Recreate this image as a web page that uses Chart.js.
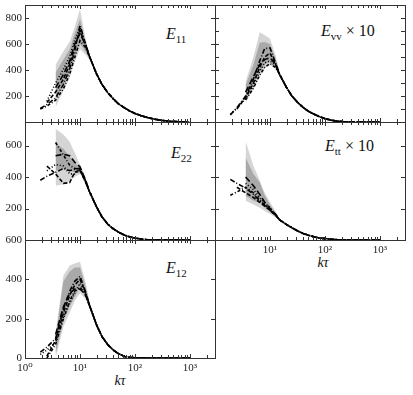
<!DOCTYPE html>
<html lang="en">
<head>
<meta charset="UTF-8">
<title>Spectra vs k tau</title>
<script src="https://cdn.jsdelivr.net/npm/chart.js"></script>
<style>
  body { margin: 0; background: #fff; }
  #fig { position: relative; width: 413px; height: 395px; overflow: hidden;
         font-family: 'Liberation Serif', 'DejaVu Serif', serif; color: #111; }
  #fig canvas { position: absolute; }
  .lbl { position: absolute; font-size: 16px; line-height: 16px; white-space: nowrap; }
  .lbl .s { font-size: 11px; position: relative; top: 4px; }
  .ktau { position: absolute; font-size: 14px; line-height: 14px; font-style: italic; width: 40px; text-align: center; }
</style>
</head>
<body>
<div id="fig">
  <div class="lbl" style="left:166px; top:26px"><i>E</i><span class="s">11</span></div>
  <div class="lbl" style="left:321px; top:23px"><i>E</i><span class="s">vv</span> × 10</div>
  <div class="lbl" style="left:171px; top:145px"><i>E</i><span class="s">22</span></div>
  <div class="lbl" style="left:325px; top:138px"><i>E</i><span class="s">tt</span> × 10</div>
  <div class="lbl" style="left:166px; top:260px"><i>E</i><span class="s">12</span></div>
  <div class="ktau" style="left:100px; top:374px">kτ</div>
  <div class="ktau" style="left:303px; top:256px">kτ</div>
</div>
<script>
// wavenumber grid (k tau) shared by every curve
const kTau = [1.9, 2.5, 3.6, 5, 6.5, 8, 10, 12.5, 15, 20, 25, 32, 40, 50, 65, 80, 100, 130, 170, 220, 300, 450, 700, 1000];

// each panel: 5 runs read up to k=12.5, then a common tail from k=15 on,
// plus an outer and inner grey envelope
const e11Runs = [
  [104, 135, 185, 290, 410, 545, 745, 605],
  [null, 150, 230, 330, 445, 570, 705, 590],
  [100, 122, 168, 255, 370, 495, 625, 575],
  [null, null, 265, 365, 470, 600, 680, 600],
  [null, 160, 300, 405, 505, 630, 725, 610]
];
const e11Tail = [500, 370, 290, 225, 180, 140, 108, 85, 66, 48, 34, 23, 13, 5, 1, 0];
const e11OuterLo = [null, null, 115, 240, 340, 460, 560, 520, 480];
const e11OuterHi = [null, null, 440, 545, 620, 730, 870, 650, 520];
const e11InnerLo = [null, null, 175, 280, 380, 500, 600, 545, 490];
const e11InnerHi = [null, null, 380, 480, 560, 680, 790, 625, 510];

const evvRuns = [
  [55, 110, 200, 330, 470, 565, 570, 460],
  [null, 100, 190, 300, 420, 500, 530, 450],
  [null, null, 170, 260, 360, 420, 450, 420],
  [null, null, 230, 350, 440, 480, 495, 445],
  [60, 105, 180, 280, 390, 455, 470, 430]
];
const evvTail = [365, 265, 200, 150, 112, 82, 58, 40, 26, 14, 6, 2, 0, 0, 0, 0];
const evvOuterLo = [null, null, 150, 250, 350, 410, 440, 410, 355];
const evvOuterHi = [null, null, 310, 500, 690, 670, 640, 520, 385];
const evvInnerLo = [null, null, 185, 290, 385, 440, 470, 425, 360];
const evvInnerHi = [null, null, 280, 440, 610, 615, 600, 495, 375];

const e22Runs = [
  [380, 405, 430, 455, 440, 450, 455, 375],
  [null, 470, 420, 360, 365, 430, 445, 370],
  [null, null, 620, 540, 475, 455, 450, 380],
  [null, null, 535, 545, 535, 495, 465, 385],
  [null, 440, 480, 470, 420, 420, 445, 370]
];
const e22Tail = [305, 210, 148, 100, 72, 50, 30, 20, 12, 6, 2, 0, 0, 0, 0, 0];
const e22OuterLo = [null, null, 345, 355, 375, 400, 420, 380, 310];
const e22OuterHi = [null, null, 705, 670, 625, 555, 480, 400, 315];
const e22InnerLo = [null, null, 440, 450, 440, 430, 425, 385, 310];
const e22InnerHi = [null, null, 615, 580, 530, 490, 460, 395, 312];

const ettRuns = [
  [385, 360, 330, 290, 250, 220, 190, 160],
  [null, 335, 300, 270, 240, 215, 190, 158],
  [285, 305, 335, 300, 255, 225, 195, 162],
  [null, null, 400, 345, 290, 240, 200, 165],
  [null, null, 360, 320, 270, 235, 205, 162]
];
const ettTail = [128, 98, 78, 57, 42, 30, 19, 13, 9, 5, 2, 1, 0, 0, 0, 0];
const ettOuterLo = [null, null, 250, 225, 205, 185, 165, 145, 125];
const ettOuterHi = [null, null, 630, 470, 380, 300, 240, 185, 135];
const ettInnerLo = [null, null, 280, 250, 235, 205, 180, 150, 127];
const ettInnerHi = [null, null, 525, 420, 365, 285, 225, 175, 132];

const e12Runs = [
  [30, 55, 100, 250, 340, 390, 415, 340],
  [null, 10, 90, 230, 320, 370, 400, 335],
  [null, 0, 70, 200, 290, 340, 360, 320],
  [null, null, 120, 260, 330, 350, 350, 325],
  [18, 40, 80, 210, 280, 330, 380, 330]
];
const e12Tail = [265, 168, 110, 68, 41, 22, 8, 3, 1, 0, 0, 0, 0, 0, 0, 0];
const e12OuterLo = [null, null, 0, 160, 230, 290, 330, 300, 250];
const e12OuterHi = [null, null, 125, 420, 470, 480, 490, 390, 285];
const e12InnerLo = [null, null, 20, 190, 260, 310, 360, 310, 255];
const e12InnerHi = [null, null, 110, 390, 440, 460, 460, 370, 275];

const supDigits = ['\u2070', '\u00b9', '\u00b2', '\u00b3'];
const runDashes = [[5, 2, 1, 2], [4, 2], [3, 2, 1, 2], [6, 3], [1, 2]];
const serif = "'Liberation Serif', 'DejaVu Serif', serif";
const fig = document.getElementById('fig');

// box round the plot area and inward ticks on all four sides
const framePlugin = {
  id: 'frame',
  afterDraw(chart) {
    const { ctx, chartArea: a, scales: { x, y } } = chart;
    const step = chart.options.scales.y.ticks.stepSize;
    ctx.save();
    ctx.strokeStyle = '#333';
    ctx.lineWidth = 1;
    ctx.beginPath();
    x.ticks.forEach(t => {
      const m = t.value / Math.pow(10, Math.floor(Math.log10(t.value) + 1e-9));
      if (Math.abs(m - Math.round(m)) > 1e-6) return;
      const px = Math.round(x.getPixelForValue(t.value)) + 0.5;
      const len = Math.round(m) === 1 ? 4 : 3;
      ctx.moveTo(px, a.bottom); ctx.lineTo(px, a.bottom - len);
      ctx.moveTo(px, a.top); ctx.lineTo(px, a.top + len);
    });
    y.ticks.forEach(t => {
      if (t.value % step !== 0) return;
      const py = Math.round(y.getPixelForValue(t.value)) + 0.5;
      ctx.moveTo(a.left, py); ctx.lineTo(a.left + 4, py);
      ctx.moveTo(a.right, py); ctx.lineTo(a.right - 4, py);
    });
    ctx.stroke();
    ctx.strokeRect(Math.round(a.left) + 0.5, Math.round(a.top) + 0.5,
                   Math.round(a.right - a.left), Math.round(a.bottom - a.top));
    ctx.restore();
  }
};

function points(vals) {
  return kTau.map((k, i) => ({ x: k, y: i < vals.length ? vals[i] : null }));
}

function makePanel(p) {
  const padT = 8, padR = 8;
  const cv = document.createElement('canvas');
  cv.width = p.padL + p.w + padR;
  cv.height = padT + p.h + p.padB;
  cv.style.left = (p.left - p.padL) + 'px';
  cv.style.top = (p.top - padT) + 'px';
  fig.appendChild(cv);

  const datasets = [];
  p.runs.forEach((head, i) => {
    const vals = head.slice();
    while (vals.length < 8) vals.push(null);
    datasets.push({
      data: points(vals.concat(p.tail)),
      borderColor: '#000', borderWidth: 1.6, borderDash: runDashes[i],
      fill: false, order: 1
    });
  });
  datasets.push({ data: points(p.innerHi), borderWidth: 0, fill: '+1', backgroundColor: '#a9a9a9', order: 2 });
  datasets.push({ data: points(p.innerLo), borderWidth: 0, fill: false, order: 2 });
  datasets.push({ data: points(p.outerHi), borderWidth: 0, fill: '+1', backgroundColor: '#d5d5d5', order: 3 });
  datasets.push({ data: points(p.outerLo), borderWidth: 0, fill: false, order: 3 });

  new Chart(cv, {
    type: 'line',
    data: { datasets },
    options: {
      responsive: false, animation: false, devicePixelRatio: 1,
      layout: { padding: { left: 0, top: padT, right: padR, bottom: 0 } },
      plugins: { legend: { display: false }, tooltip: { enabled: false } },
      elements: { point: { radius: 0 }, line: { tension: 0 } },
      scales: {
        x: {
          type: 'logarithmic', min: 1, max: 2850,
          grid: { display: false, drawTicks: false }, border: { display: false },
          ticks: {
            display: p.xLabels, autoSkip: false, maxRotation: 0, padding: 4,
            color: '#222', font: { family: serif, size: 11 },
            callback: v => {
              const e = Math.log10(v), r = Math.round(e);
              if (Math.abs(e - r) > 1e-9 || r < p.xFirst) return '';
              return '10' + supDigits[r];
            }
          },
          afterFit: s => { s.height = p.padB; s.paddingLeft = 0; s.paddingRight = 0; }
        },
        y: {
          min: 0, max: p.yMax,
          grid: { display: false, drawTicks: false }, border: { display: false },
          ticks: {
            display: p.yLabels, stepSize: p.yStep, padding: 3,
            color: '#222', font: { family: serif, size: 11 },
            callback: v => (v % 200 === 0 && v >= p.yFirst) ? String(v) : ''
          },
          afterFit: s => { s.width = p.padL; s.paddingTop = 0; s.paddingBottom = 0; }
        }
      }
    },
    plugins: [framePlugin]
  });
}

const panels = [
  { left: 25, top: 5, w: 190, h: 117, padL: 25, padB: 4, yMax: 900, yStep: 200, yFirst: 200,
    yLabels: true, xLabels: false, xFirst: 0, runs: e11Runs, tail: e11Tail,
    outerLo: e11OuterLo, outerHi: e11OuterHi, innerLo: e11InnerLo, innerHi: e11InnerHi },
  { left: 215, top: 5, w: 190, h: 117, padL: 4, padB: 4, yMax: 900, yStep: 100, yFirst: 0,
    yLabels: false, xLabels: false, xFirst: 0, runs: evvRuns, tail: evvTail,
    outerLo: evvOuterLo, outerHi: evvOuterHi, innerLo: evvInnerLo, innerHi: evvInnerHi },
  { left: 25, top: 122, w: 190, h: 118, padL: 25, padB: 4, yMax: 750, yStep: 200, yFirst: 200,
    yLabels: true, xLabels: false, xFirst: 0, runs: e22Runs, tail: e22Tail,
    outerLo: e22OuterLo, outerHi: e22OuterHi, innerLo: e22InnerLo, innerHi: e22InnerHi },
  { left: 215, top: 122, w: 190, h: 118, padL: 4, padB: 22, yMax: 750, yStep: 200, yFirst: 0,
    yLabels: false, xLabels: true, xFirst: 1, runs: ettRuns, tail: ettTail,
    outerLo: ettOuterLo, outerHi: ettOuterHi, innerLo: ettInnerLo, innerHi: ettInnerHi },
  { left: 25, top: 240, w: 190, h: 118, padL: 25, padB: 22, yMax: 600, yStep: 200, yFirst: 0,
    yLabels: true, xLabels: true, xFirst: 0, runs: e12Runs, tail: e12Tail,
    outerLo: e12OuterLo, outerHi: e12OuterHi, innerLo: e12InnerLo, innerHi: e12InnerHi }
];

panels.forEach(makePanel);
</script>
</body>
</html>
